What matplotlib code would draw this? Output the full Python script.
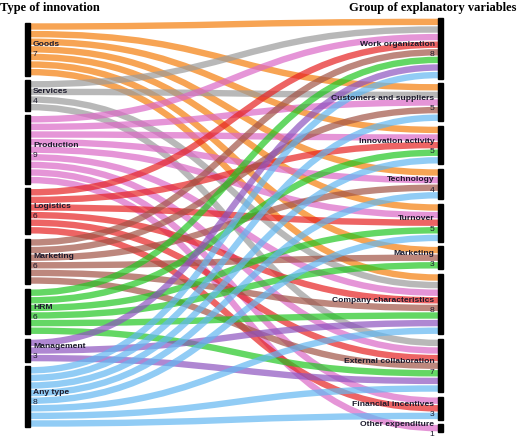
import matplotlib
matplotlib.use("Agg")
import matplotlib.pyplot as plt
from matplotlib.path import Path
from matplotlib.patches import PathPatch, Rectangle

# ---------------- data ----------------
sources = ["Goods", "Services", "Production", "Logistics", "Marketing", "HRM",
           "Management", "Any type"]
targets = ["Work organization", "Customers and suppliers", "Innovation activity",
           "Technology", "Turnover", "Marketing", "Company characteristics",
           "External collaboration", "Financial incentives", "Other expenditure"]

# links: for each source, the list of targets it connects to (value 1 each)
links_goods = ["Work organization", "Customers and suppliers", "Innovation activity",
               "Technology", "Turnover", "Marketing", "Company characteristics"]
links_services = ["Work organization", "Customers and suppliers",
                  "Company characteristics", "External collaboration"]
links_production = ["Work organization", "Customers and suppliers", "Innovation activity",
                    "Technology", "Turnover", "Company characteristics",
                    "External collaboration", "Financial incentives", "Other expenditure"]
links_logistics = ["Work organization", "Innovation activity", "Turnover",
                   "Company characteristics", "External collaboration",
                   "Financial incentives"]
links_marketing = ["Work organization", "Customers and suppliers", "Technology",
                   "Marketing", "Company characteristics", "External collaboration"]
links_hrm = ["Work organization", "Innovation activity", "Turnover", "Marketing",
             "Company characteristics", "External collaboration"]
links_management = ["Work organization", "Company characteristics",
                    "External collaboration"]
links_anytype = ["Work organization", "Customers and suppliers", "Innovation activity",
                 "Technology", "Turnover", "Company characteristics",
                 "External collaboration", "Financial incentives"]

source_links = [links_goods, links_services, links_production, links_logistics,
                links_marketing, links_hrm, links_management, links_anytype]

colors = ["#f47e0c", "#9b9b9b", "#db69c6", "#e62222", "#a25446", "#22c622",
          "#8d54bf", "#62b7f1"]

# ---------------- layout ----------------
W, H = 520, 440
fig = plt.figure(figsize=(W / 100, H / 100), dpi=100)
ax = fig.add_axes([0, 0, 1, 1])
ax.set_xlim(0, W)
ax.set_ylim(H, 0)
ax.axis("off")

ky = 7.6
pad = 4.6
yc = 225
xL0, xL1 = 25, 29.5
xR0, xR1 = 438, 442.5

src_val = [len(l) for l in source_links]
tgt_val = [sum(t in l for l in source_links) for t in targets]


def column(vals):
    span = sum(vals) * ky + (len(vals) - 1) * pad
    y = yc - span / 2
    pos = []
    for v in vals:
        pos.append((y, y + v * ky))
        y += v * ky + pad
    return pos

src_pos = column(src_val)
tgt_pos = column(tgt_val)

# link slot positions
src_slot = {}
for i, l in enumerate(source_links):
    for k, t in enumerate(sorted(l, key=targets.index)):
        src_slot[(i, t)] = src_pos[i][0] + (k + 0.5) * ky
tgt_slot = {}
for j, t in enumerate(targets):
    k = 0
    for i, l in enumerate(source_links):
        if t in l:
            tgt_slot[(i, t)] = tgt_pos[j][0] + (k + 0.5) * ky
            k += 1

lw_pt = (ky - 1.2) * 72 / 100
xm = (xL1 + xR0) / 2
for i, l in enumerate(source_links):
    for t in l:
        y0 = src_slot[(i, t)]
        y1 = tgt_slot[(i, t)]
        p = Path([(xL1, y0), (xm, y0), (xm, y1), (xR0, y1)],
                 [Path.MOVETO, Path.CURVE4, Path.CURVE4, Path.CURVE4])
        ax.add_patch(PathPatch(p, fill=False, edgecolor=colors[i], alpha=0.7,
                               lw=lw_pt, capstyle="butt", zorder=2))

# nodes
txtc = "#1c1a2c"
fs = 6.1
for i, (a, b) in enumerate(src_pos):
    ax.add_patch(Rectangle((xL0, a), xL1 - xL0, b - a, color="black", zorder=3))
    c = (a + b) / 2
    ax.text(33, c - 4.5, sources[i], fontsize=fs, fontweight="bold", color=txtc,
            family="Liberation Sans", ha="left", va="center", zorder=4)
    ax.text(33, c + 5.5, str(src_val[i]), fontsize=fs, color=txtc,
            family="Liberation Sans", ha="left", va="center", zorder=4)
for j, (a, b) in enumerate(tgt_pos):
    ax.add_patch(Rectangle((xR0, a), xR1 - xR0, b - a, color="black", zorder=3))
    c = (a + b) / 2
    ax.text(434.5, c - 4, targets[j], fontsize=fs, fontweight="bold", color=txtc,
            family="Liberation Sans", ha="right", va="center", zorder=4)
    ax.text(434.5, c + 6.5, str(tgt_val[j]), fontsize=fs, color=txtc,
            family="Liberation Sans", ha="right", va="center", zorder=4)

ax.text(0, 2, "Type of innovation", fontsize=9, fontweight="bold",
        family="Liberation Serif", ha="left", va="top")
ax.text(516, 2, "Group of explanatory variables", fontsize=9, fontweight="bold",
        family="Liberation Serif", ha="right", va="top")

fig.savefig("out.png", dpi=100)
